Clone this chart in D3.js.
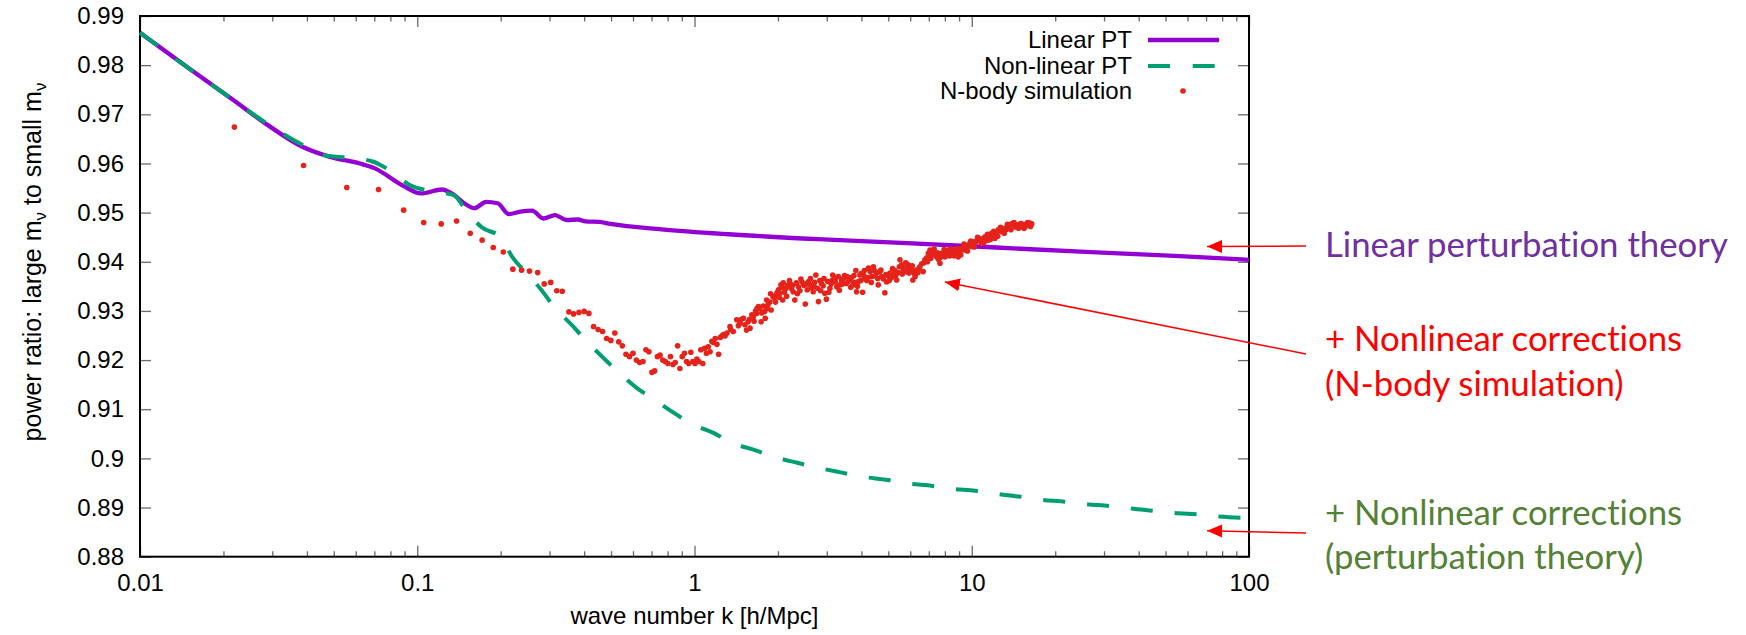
<!DOCTYPE html>
<html>
<head>
<meta charset="utf-8">
<script src="https://cdn.jsdelivr.net/npm/d3@7"></script>
<style>
  html, body { margin: 0; padding: 0; background: #fff; }
  svg { display: block; }
  .note text { font-variant-ligatures: none; }
</style>
</head>
<body>
<div id="chart"></div>
<script>
// ---- data: [k (h/Mpc), power ratio] ----
const linearPT = [
  [0.01, 0.9866], [0.0153, 0.9790], [0.0217, 0.9729], [0.0289, 0.9678], [0.0385, 0.9634],
  [0.0481, 0.9614], [0.062, 0.9600], [0.0704, 0.9590], [0.088, 0.9556], [0.1032, 0.9539],
  [0.1228, 0.9547], [0.133, 0.9539], [0.1486, 0.9518], [0.161, 0.9509], [0.177, 0.9522],
  [0.195, 0.9519], [0.2143, 0.9497], [0.2355, 0.9502], [0.2594, 0.9504], [0.285, 0.9488],
  [0.314, 0.9495], [0.345, 0.9485], [0.38, 0.9486], [0.404, 0.9482], [0.453, 0.9481],
  [0.497, 0.9477], [0.76, 0.9466], [1.327, 0.9456], [2.786, 0.9446], [5.84, 0.9438],
  [12.27, 0.9429], [25.8, 0.9420], [54.0, 0.9412], [100, 0.9404]
];

const nonlinearPT = [
  [0.01, 0.9866], [0.0153, 0.9790], [0.0217, 0.9729], [0.0289, 0.9680], [0.0385, 0.9638],
  [0.048, 0.9615], [0.056, 0.9612], [0.069, 0.9604], [0.08, 0.9585], [0.094, 0.9556],
  [0.114, 0.9543], [0.135, 0.9536], [0.151, 0.9502], [0.171, 0.9470], [0.2, 0.9450],
  [0.22, 0.9410], [0.255, 0.9370], [0.28, 0.9343], [0.314, 0.9306], [0.36, 0.9272],
  [0.404, 0.9241], [0.47, 0.9204], [0.53, 0.9176], [0.62, 0.9143], [0.72, 0.9119],
  [0.83, 0.9095], [0.98, 0.9070], [1.17, 0.9052], [1.37, 0.9031], [1.65, 0.9017],
  [1.94, 0.9003], [2.35, 0.8991], [2.84, 0.8980], [3.4, 0.8971], [4.0, 0.8963],
  [5.0, 0.8956], [5.85, 0.8949], [7.2, 0.8944], [8.5, 0.8938], [10.3, 0.8934],
  [12.2, 0.8928], [15, 0.8922], [17.7, 0.8916], [21.7, 0.8912], [25.8, 0.8907],
  [31.5, 0.8903], [37.3, 0.8898], [46, 0.8893], [54, 0.8889], [66, 0.8886],
  [78, 0.8882], [100, 0.8878]
];

const nbody = [
  [0.0219, 0.9674], [0.0389, 0.9596], [0.0557, 0.9551], [0.0725, 0.9547], [0.0893, 0.9505],
  [0.1055, 0.9480], [0.122, 0.9477], [0.1386, 0.9483], [0.1553, 0.9458], [0.1714, 0.9444],
  [0.188, 0.9429], [0.2043, 0.9420], [0.2212, 0.9385], [0.2379, 0.9383], [0.254, 0.9381],
  [0.2718, 0.9378], [0.287, 0.9355], [0.303, 0.9358], [0.3186, 0.9341], [0.3334, 0.9340],
  [0.3525, 0.9298], [0.3665, 0.9294], [0.383, 0.9297], [0.400, 0.9299], [0.416, 0.9295],
  [0.4325, 0.9268], [0.449, 0.9262], [0.466, 0.9258], [0.482, 0.9244], [0.499, 0.9240],
  [0.516, 0.9255], [0.533, 0.9237], [0.549, 0.9229], [0.566, 0.9212], [0.583, 0.9207],
  [0.600, 0.9214], [0.617, 0.9200], [0.634, 0.9195], [0.652, 0.9197], [0.668, 0.9221],
  [0.685, 0.9217], [0.702, 0.9175], [0.718, 0.9178], [0.735, 0.9207], [0.751, 0.9210],
  [0.768, 0.9200], [0.785, 0.9197], [0.802, 0.9193], [0.819, 0.9207], [0.836, 0.9191],
  [0.852, 0.9195], [0.869, 0.9229], [0.886, 0.9183], [0.903, 0.9207], [0.920, 0.9214],
  [0.936, 0.9197], [0.953, 0.9193], [0.970, 0.9216], [0.987, 0.9197], [1.004, 0.9193],
  [1.020, 0.9202], [1.037, 0.9197], [1.054, 0.9221], [1.071, 0.9193], [1.088, 0.9224],
  [1.104, 0.9214], [1.121, 0.9227], [1.138, 0.9217], [1.155, 0.9238], [1.171, 0.9236],
  [1.188, 0.9244], [1.205, 0.9232], [1.222, 0.9212], [1.238, 0.9246], [1.255, 0.9249],
  [1.272, 0.9252], [1.289, 0.9249], [1.31, 0.9255], [1.343, 0.9268], [1.35, 0.9262],
  [1.38, 0.9258], [1.42, 0.9282], [1.44, 0.9270], [1.459, 0.9275], [1.47, 0.9282],
  [1.50, 0.9285], [1.52, 0.9272], [1.54, 0.9261], [1.56, 0.9278], [1.58, 0.9283],
  [1.586, 0.9265], [1.61, 0.9292], [1.63, 0.9288], [1.64, 0.9279], [1.66, 0.9300],
  [1.676, 0.9295], [1.68, 0.9305], [1.70, 0.9309], [1.72, 0.9305], [1.74, 0.9278],
  [1.75, 0.9296], [1.77, 0.9310], [1.79, 0.9299], [1.80, 0.9285], [1.82, 0.9322],
  [1.83, 0.9305], [1.84, 0.9312], [1.87, 0.9318], [1.88, 0.9335], [1.89, 0.9302],
  [1.92, 0.9329], [1.94, 0.9326], [1.96, 0.9318], [1.97, 0.9333], [1.99, 0.9338],
  [2.01, 0.9343], [2.02, 0.9328], [2.03, 0.9336], [2.05, 0.9353], [2.07, 0.9348],
  [2.08, 0.9322], [2.09, 0.9357], [2.11, 0.9338], [2.14, 0.9346], [2.15, 0.9330],
  [2.17, 0.9352], [2.20, 0.9362], [2.21, 0.9356], [2.24, 0.9345], [2.26, 0.9352],
  [2.27, 0.9339], [2.30, 0.9322], [2.33, 0.9357], [2.35, 0.9335], [2.37, 0.9349],
  [2.40, 0.9341], [2.42, 0.9365], [2.44, 0.9359], [2.48, 0.9352], [2.51, 0.9314],
  [2.53, 0.9355], [2.55, 0.9343], [2.58, 0.9360], [2.61, 0.9353], [2.62, 0.9366],
  [2.64, 0.9347], [2.68, 0.9339], [2.70, 0.9350], [2.71, 0.9358], [2.74, 0.9373],
  [2.78, 0.9346], [2.80, 0.9319], [2.83, 0.9362], [2.85, 0.9341], [2.87, 0.9356],
  [2.91, 0.9351], [2.93, 0.9366], [2.95, 0.9336], [2.99, 0.9324], [3.02, 0.9360],
  [3.05, 0.9338], [3.08, 0.9346], [3.11, 0.9355], [3.13, 0.9362], [3.15, 0.9373],
  [3.18, 0.9364], [3.22, 0.9359], [3.24, 0.9368], [3.26, 0.9349], [3.30, 0.9370],
  [3.33, 0.9342], [3.35, 0.9353], [3.39, 0.9362], [3.42, 0.9355], [3.44, 0.9366],
  [3.48, 0.9372], [3.53, 0.9356], [3.55, 0.9370], [3.58, 0.9360], [3.64, 0.9363],
  [3.66, 0.9348], [3.68, 0.9368], [3.73, 0.9353], [3.76, 0.9372], [3.78, 0.9358],
  [3.82, 0.9382], [3.84, 0.9339], [3.87, 0.9350], [3.90, 0.9360], [3.95, 0.9373],
  [3.98, 0.9362], [4.00, 0.9376], [4.04, 0.9338], [4.08, 0.9372], [4.10, 0.9382],
  [4.12, 0.9366], [4.18, 0.9362], [4.22, 0.9368], [4.24, 0.9387], [4.30, 0.9380],
  [4.34, 0.9358], [4.36, 0.9370], [4.42, 0.9390], [4.45, 0.9382], [4.48, 0.9371],
  [4.54, 0.9377], [4.58, 0.9366], [4.60, 0.9353], [4.66, 0.9380], [4.70, 0.9383],
  [4.73, 0.9370], [4.80, 0.9365], [4.86, 0.9337], [4.90, 0.9374], [4.93, 0.9359],
  [5.00, 0.9371], [5.04, 0.9362], [5.07, 0.9377], [5.14, 0.9368], [5.18, 0.9386],
  [5.21, 0.9373], [5.28, 0.9382], [5.32, 0.9372], [5.36, 0.9363], [5.44, 0.9378],
  [5.48, 0.9390], [5.51, 0.9404], [5.59, 0.9394], [5.62, 0.9375], [5.66, 0.9384],
  [5.74, 0.9387], [5.78, 0.9398], [5.82, 0.9380], [5.90, 0.9394], [5.94, 0.9377],
  [5.98, 0.9388], [6.07, 0.9383], [6.10, 0.9392], [6.13, 0.9363], [6.20, 0.9376],
  [6.25, 0.9370], [6.31, 0.9383], [6.40, 0.9378], [6.45, 0.9386], [6.50, 0.9390],
  [6.60, 0.9396], [6.68, 0.9380], [6.72, 0.9398], [6.78, 0.9404], [6.88, 0.9408],
  [6.92, 0.9400], [6.97, 0.9417], [7.07, 0.9424], [7.12, 0.9407], [7.17, 0.9414],
  [7.27, 0.9420], [7.32, 0.9426], [7.37, 0.9417], [7.47, 0.9410], [7.52, 0.9418],
  [7.58, 0.9405], [7.68, 0.9397], [7.72, 0.9409], [7.79, 0.9417], [7.90, 0.9412],
  [7.95, 0.9425], [8.00, 0.9410], [8.12, 0.9420], [8.18, 0.9413], [8.23, 0.9424],
  [8.34, 0.9412], [8.40, 0.9426], [8.46, 0.9417], [8.58, 0.9424], [8.64, 0.9412],
  [8.70, 0.9420], [8.82, 0.9416], [8.88, 0.9427], [8.94, 0.9410], [9.07, 0.9420],
  [9.13, 0.9414], [9.20, 0.9427], [9.33, 0.9431], [9.38, 0.9436], [9.45, 0.9424],
  [9.58, 0.9428], [9.65, 0.9422], [9.72, 0.9434], [9.86, 0.9438], [9.92, 0.9442],
  [9.99, 0.9431], [10.12, 0.9436], [10.2, 0.9430], [10.27, 0.9441], [10.42, 0.9442],
  [10.5, 0.9450], [10.56, 0.9448], [10.71, 0.9443], [10.8, 0.9446], [10.86, 0.9437],
  [11.0, 0.9446], [11.1, 0.9440], [11.16, 0.9451], [11.32, 0.9452], [11.4, 0.9456],
  [11.48, 0.9444], [11.64, 0.9450], [11.7, 0.9446], [11.80, 0.9458], [11.96, 0.9455],
  [12.0, 0.9462], [12.13, 0.9448], [12.3, 0.9457], [12.4, 0.9452], [12.47, 0.9465],
  [12.65, 0.9466], [12.7, 0.9470], [12.82, 0.9461], [13.0, 0.9463], [13.1, 0.9458],
  [13.18, 0.9468], [13.36, 0.9466], [13.45, 0.9476], [13.55, 0.9471], [13.74, 0.9474],
  [13.85, 0.9465], [13.93, 0.9477], [14.12, 0.9476], [14.2, 0.9480], [14.32, 0.9471],
  [14.52, 0.9475], [14.6, 0.9470], [14.72, 0.9468], [14.93, 0.9470], [15.0, 0.9478],
  [15.14, 0.9473], [15.35, 0.9476], [15.45, 0.9468], [15.56, 0.9471], [15.78, 0.9474],
  [15.9, 0.9480], [16.00, 0.9475], [16.22, 0.9479], [16.3, 0.9472], [16.45, 0.9477]
];

const xMajorTicks = [0.01, 0.1, 1, 10, 100];
const xTickLabels = ["0.01", "0.1", "1", "10", "100"];
const yTicks = [0.88, 0.89, 0.90, 0.91, 0.92, 0.93, 0.94, 0.95, 0.96, 0.97, 0.98, 0.99];
const yTickLabels = ["0.88", "0.89", "0.9", "0.91", "0.92", "0.93", "0.94", "0.95", "0.96", "0.97", "0.98", "0.99"];
const legendLabels = ["Linear PT", "Non-linear PT", "N-body simulation"];
const noteLines = ["Linear perturbation theory", "+ Nonlinear corrections", "(N-body simulation)",
                   "+ Nonlinear corrections", "(perturbation theory)"];
// where the three arrows point, in data units [k, ratio]
const arrowTips = [[70.6, 0.9431], [8.0, 0.9359], [70.6, 0.8853]];

// ---- layout ----
const W = 1746, H = 635;
const mLeft = 140, mRight = 1249, mTop = 16, mBottom = 556.7;
const purple = "#9400d3", green = "#009e73", red = "#e5231a";

const svg = d3.select("#chart").append("svg")
  .attr("width", W).attr("height", H)
  .attr("font-family", "'Liberation Sans', Arial, Helvetica, sans-serif")
  .attr("font-size", 24);

const x = d3.scaleLog().domain([0.01, 100]).range([mLeft, mRight]);
const y = d3.scaleLinear().domain([0.88, 0.99]).range([mBottom, mTop]);

// minor ticks 2..9 of each decade
const xMinor = [];
xMajorTicks.slice(0, -1).forEach(d => { for (let i = 2; i <= 9; i++) xMinor.push(d * i); });

const styleAxis = g => {
  g.attr("font-size", null).attr("font-family", null);
  g.select(".domain").remove();
  g.selectAll(".tick line").attr("stroke", "#6a6a6a").attr("stroke-width", 1.3);
  g.selectAll(".tick text").attr("fill", "#000");
};

// bottom axis: inward ticks, labels below
svg.append("g").attr("transform", `translate(0,${mBottom})`)
  .call(d3.axisBottom(x).tickValues(xMajorTicks).tickSize(-11).tickPadding(17)
    .tickFormat((d, i) => xTickLabels[i]))
  .call(styleAxis);
svg.append("g").attr("transform", `translate(0,${mBottom})`)
  .call(d3.axisBottom(x).tickValues(xMinor).tickSize(-5.5).tickFormat(""))
  .call(styleAxis);
// top axis
svg.append("g").attr("transform", `translate(0,${mTop})`)
  .call(d3.axisTop(x).tickValues(xMajorTicks).tickSize(-11).tickFormat(""))
  .call(styleAxis);
svg.append("g").attr("transform", `translate(0,${mTop})`)
  .call(d3.axisTop(x).tickValues(xMinor).tickSize(-5.5).tickFormat(""))
  .call(styleAxis);
// left axis
svg.append("g").attr("transform", `translate(${mLeft},0)`)
  .call(d3.axisLeft(y).tickValues(yTicks).tickSize(-11).tickPadding(16)
    .tickFormat((d, i) => yTickLabels[i]))
  .call(styleAxis);
// right axis
svg.append("g").attr("transform", `translate(${mRight},0)`)
  .call(d3.axisRight(y).tickValues(yTicks).tickSize(-11).tickFormat(""))
  .call(styleAxis);

// frame
svg.append("rect")
  .attr("x", mLeft).attr("y", mTop)
  .attr("width", mRight - mLeft).attr("height", mBottom - mTop)
  .attr("fill", "none").attr("stroke", "#000").attr("stroke-width", 2);

// axis titles
svg.append("text")
  .attr("x", (mLeft + mRight) / 2).attr("y", 624)
  .attr("text-anchor", "middle")
  .text("wave number k [h/Mpc]");

const yl = svg.append("text")
  .attr("transform", "translate(41,262) rotate(-90)")
  .attr("text-anchor", "middle")
  .attr("font-size", 25);
yl.append("tspan").text("power ratio: large m");
yl.append("tspan").attr("dy", 5).attr("font-size", 17).text("ν");
yl.append("tspan").attr("dy", -5).text(" to small m");
yl.append("tspan").attr("dy", 5).attr("font-size", 17).text("ν");

// curves
const line = d3.line().x(d => x(d[0])).y(d => y(d[1])).curve(d3.curveMonotoneX);
const plot = svg.append("g");

plot.append("path").datum(linearPT)
  .attr("d", line).attr("fill", "none")
  .attr("stroke", purple).attr("stroke-width", 4.3).attr("stroke-linejoin", "round");

plot.append("path").datum(nonlinearPT)
  .attr("d", line).attr("fill", "none")
  .attr("stroke", green).attr("stroke-width", 4).attr("stroke-dasharray", "22,22");

plot.selectAll("circle.nb").data(nbody).join("circle")
  .attr("class", "nb")
  .attr("cx", d => x(d[0])).attr("cy", d => y(d[1]))
  .attr("r", 2.8).attr("fill", red);

// legend
const legY = [40, 66, 91];
const leg = svg.append("g");
legendLabels.forEach((lab, i) => {
  leg.append("text").attr("x", 1132).attr("y", legY[i]).attr("dy", "0.35em")
    .attr("text-anchor", "end").text(lab);
});
leg.append("line").attr("x1", 1148).attr("x2", 1219).attr("y1", legY[0]).attr("y2", legY[0])
  .attr("stroke", purple).attr("stroke-width", 4.3);
leg.append("line").attr("x1", 1148).attr("x2", 1215).attr("y1", legY[1]).attr("y2", legY[1])
  .attr("stroke", green).attr("stroke-width", 4).attr("stroke-dasharray", "22,22.7");
leg.append("circle").attr("cx", 1183).attr("cy", legY[2]).attr("r", 2.8).attr("fill", red);

// annotations on the right
const noteColors = ["#7030a0", "#ff0000", "#ff0000", "#548235", "#548235"];
const noteBase = [257, 351, 396, 525, 569];
const noteX = 1325;
const notes = svg.append("g").attr("class", "note")
  .attr("font-family", "Lato, 'Open Sans', sans-serif");
const probe = notes.append("text").attr("font-size", 100).text(noteLines[0]);
const fs = 100 * 403 / probe.node().getComputedTextLength();
probe.remove();
noteLines.forEach((t, i) => {
  notes.append("text").attr("x", noteX).attr("y", noteBase[i])
    .attr("font-size", fs).attr("fill", noteColors[i]).text(t);
});

// arrows
svg.append("defs").append("marker")
  .attr("id", "ah").attr("viewBox", "0 -7 15 14")
  .attr("refX", 15).attr("refY", 0)
  .attr("markerWidth", 15).attr("markerHeight", 14)
  .attr("markerUnits", "userSpaceOnUse").attr("orient", "auto")
  .append("path").attr("d", "M0,-6.5L15,0L0,6.5Z").attr("fill", "#ff0000");

const tails = [[1306, 246], [1306, 354], [1306, 533]];
arrowTips.forEach((d, i) => {
  svg.append("line")
    .attr("x1", tails[i][0]).attr("y1", tails[i][1])
    .attr("x2", x(d[0])).attr("y2", y(d[1]))
    .attr("stroke", "#ff0000").attr("stroke-width", 1.5)
    .attr("marker-end", "url(#ah)");
});
</script>
</body>
</html>
